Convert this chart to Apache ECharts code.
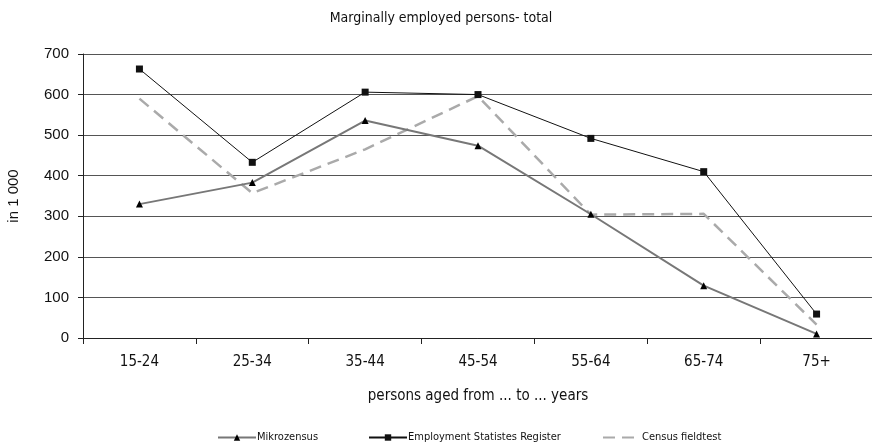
<!DOCTYPE html>
<html>
<head>
<meta charset="utf-8">
<script src="https://cdn.jsdelivr.net/npm/echarts@6/dist/echarts.min.js"></script>
<style>
  html, body { margin: 0; padding: 0; background: #fff; }
  #chart { width: 872px; height: 446px; }
</style>
</head>
<body>
<div id="chart"></div>
<script>
var categories = ["15-24", "25-34", "35-44", "45-54", "55-64", "65-74", "75+"];
var mikrozensus = [330, 383, 536, 474, 305, 129, 10];
var register = [663, 433, 606, 600, 492, 410, 59];
var fieldtest = [590, 357, 465, 596, 304, 306, 33];

var narrow = "'Liberation Sans Narrow', 'DejaVu Sans Condensed', sans-serif";
var plain = "'Liberation Sans', Arial, sans-serif";

var chart = echarts.init(document.getElementById("chart"));
chart.setOption({
  animation: false,
  title: {
    text: "Marginally employed persons- total",
    left: 436,
    textAlign: "center",
    top: 6,
    textStyle: { fontFamily: narrow, fontSize: 14, fontWeight: "normal", color: "#111" }
  },
  legend: [
    {
      data: ["Mikrozensus"], left: 212, top: 427,
      itemWidth: 38, itemHeight: 8,
      textStyle: { fontFamily: narrow, fontSize: 11, color: "#111", padding: [0, 0, 0, -4] }
    },
    {
      data: ["Employment Statistes Register"], left: 363, top: 427,
      itemWidth: 38, itemHeight: 8,
      textStyle: { fontFamily: narrow, fontSize: 11, color: "#111", padding: [0, 0, 0, -4] }
    },
    {
      data: ["Census fieldtest"], left: 597, top: 427,
      itemWidth: 38, itemHeight: 8,
      itemStyle: { opacity: 0 },
      textStyle: { fontFamily: narrow, fontSize: 11, color: "#111", padding: [0, 0, 0, -4] }
    }
  ],
  grid: { left: 83, right: -1, top: 54, bottom: 108, containLabel: false, outerBoundsMode: "none" },
  xAxis: {
    type: "category",
    data: categories,
    boundaryGap: true,
    name: "persons aged from ... to ... years",
    nameLocation: "middle",
    nameGap: 51,
    nameTextStyle: { fontFamily: narrow, fontSize: 15, color: "#111" },
    axisLine: { lineStyle: { color: "#222", width: 1 } },
    axisTick: { show: true, length: 6, lineStyle: { color: "#222" } },
    axisLabel: { fontFamily: narrow, fontSize: 15, color: "#111", margin: 17 }
  },
  yAxis: {
    type: "value",
    min: 0,
    max: 700,
    interval: 100,
    name: "in 1 000",
    nameLocation: "middle",
    nameGap: 62,
    nameTextStyle: { fontFamily: plain, fontSize: 15, color: "#111" },
    axisLine: { show: true, lineStyle: { color: "#222", width: 1 } },
    axisTick: { show: true, length: 5, lineStyle: { color: "#222" } },
    axisLabel: { fontFamily: plain, fontSize: 15, color: "#111", margin: 14 },
    splitLine: { show: true, lineStyle: { color: "#555", width: 1 } }
  },
  series: [
    {
      name: "Mikrozensus",
      type: "line",
      data: mikrozensus,
      symbol: "triangle",
      symbolSize: 7,
      itemStyle: { color: "#000" },
      lineStyle: { color: "#777", width: 2 },
      z: 3
    },
    {
      name: "Employment Statistes Register",
      type: "line",
      data: register,
      symbol: "rect",
      symbolSize: 7,
      itemStyle: { color: "#111" },
      lineStyle: { color: "#111", width: 1 },
      z: 4
    },
    {
      name: "Census fieldtest",
      type: "line",
      data: fieldtest,
      symbol: "none",
      itemStyle: { color: "#aaa" },
      lineStyle: { color: "#aaa", width: 2.5, type: [12, 7] },
      z: 2
    }
  ]
});
</script>
</body>
</html>
